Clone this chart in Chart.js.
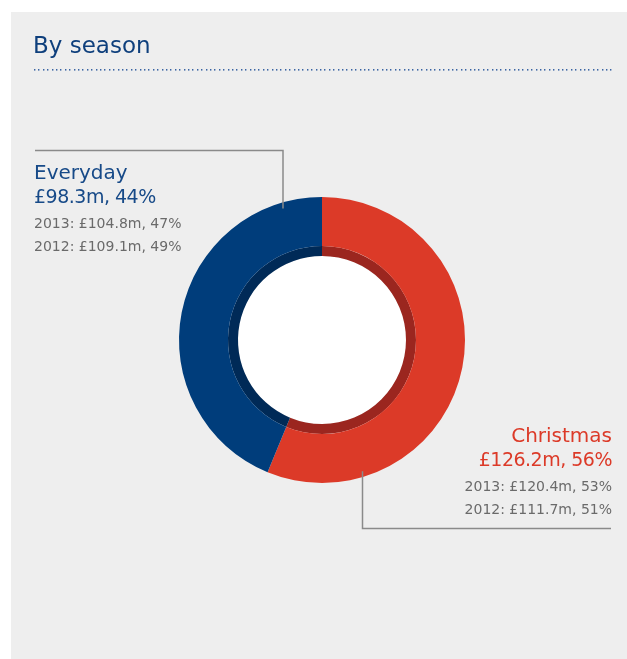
<!DOCTYPE html>
<html>
<head>
<meta charset="utf-8">
<script src="https://cdn.jsdelivr.net/npm/chart.js@4"></script>
<style>
    html, body { margin: 0; padding: 0; background: #ffffff; }
    #wrap { position: absolute; left: 0; top: 0; width: 627px; height: 659px; }
</style>
</head>
<body>
<div id="wrap"><canvas id="seasonChart" width="627" height="659"></canvas></div>
<script>
const seasons = ["Christmas", "Everyday"];
const sales2014 = [126.2, 98.3];
const shares2014 = [56, 44];
const sales2013 = [120.4, 104.8];
const shares2013 = [53, 47];
const sales2012 = [111.7, 109.1];
const shares2012 = [51, 49];

const ringColors = ["#dc3a28", "#003d7b"];
const innerColors = ["#9b261f", "#002a57"];
const labelColors = ["#dc3a28", "#174a88"];
const FONT = "'DejaVu Sans', sans-serif";

// Panel, title, dotted rule
const backdrop = {
    id: "backdrop",
    beforeDraw(chart) {
        const ctx = chart.ctx;
        ctx.save();
        ctx.fillStyle = "#eeeeee";
        ctx.fillRect(11, 12, chart.width - 11, chart.height - 12);
        ctx.fillStyle = "#0e3f7c";
        ctx.font = `23px ${FONT}`;
        ctx.textBaseline = "alphabetic";
        ctx.fillText("By season", 33, 53);
        ctx.fillStyle = "#3a64a3";
        for (let x = 34; x < 612; x += 4.4) {
            ctx.fillRect(Math.round(x), 69, 1.4, 1.6);
        }
        ctx.restore();
    }
};

// Leader lines and text labels
const callouts = {
    id: "callouts",
    afterDraw(chart) {
        const ctx = chart.ctx;
        const arc = chart.getDatasetMeta(0).data[0];
        const cx = arc.x, cy = arc.y, r = arc.outerRadius;
        ctx.save();
        ctx.strokeStyle = "#8a8a8a";
        ctx.lineWidth = 1.5;

        // Everyday: line from left, down to the ring
        const ex = 283;
        const ey = cy - Math.sqrt(r * r - (ex - cx) * (ex - cx));
        ctx.beginPath();
        ctx.moveTo(35, 150.5);
        ctx.lineTo(ex, 150.5);
        ctx.lineTo(ex, ey + 6);
        ctx.stroke();

        // Christmas: line from ring down, then right
        const chx = 362.5;
        const chy = cy + Math.sqrt(r * r - (chx - cx) * (chx - cx));
        ctx.beginPath();
        ctx.moveTo(chx, chy - 6);
        ctx.lineTo(chx, 528.5);
        ctx.lineTo(611, 528.5);
        ctx.stroke();

        const blocks = [
            { i: 1, x: 34, y: 174, align: "left" },
            { i: 0, x: 612, y: 437, align: "right" }
        ];
        ctx.textBaseline = "middle";
        blocks.forEach(b => {
            ctx.textAlign = b.align;
            ctx.fillStyle = labelColors[b.i];
            ctx.font = `20px ${FONT}`;
            ctx.letterSpacing = "0px";
            ctx.fillText(seasons[b.i], b.x, b.y);
            ctx.font = `19px ${FONT}`;
            ctx.letterSpacing = "-0.5px";
            ctx.fillText(`£${sales2014[b.i].toFixed(1)}m, ${shares2014[b.i]}%`, b.x, b.y + 24);
            ctx.letterSpacing = "0px";
            ctx.fillStyle = "#6a6a6a";
            ctx.font = `14px ${FONT}`;
            ctx.fillText(`2013: £${sales2013[b.i].toFixed(1)}m, ${shares2013[b.i]}%`, b.x, b.y + 50);
            ctx.fillText(`2012: £${sales2012[b.i].toFixed(1)}m, ${shares2012[b.i]}%`, b.x, b.y + 73);
        });
        ctx.restore();
    }
};

new Chart(document.getElementById("seasonChart").getContext("2d"), {
    type: "doughnut",
    data: {
        labels: seasons,
        datasets: [
            { data: sales2014, backgroundColor: ringColors, borderWidth: 0, weight: 49 },
            { data: sales2014, backgroundColor: innerColors, borderWidth: 0, weight: 10 },
            { data: [1], backgroundColor: ["#ffffff"], borderWidth: 0, weight: 84 }
        ]
    },
    options: {
        responsive: false,
        animation: false,
        cutout: 0,
        layout: { padding: { left: 179, right: 162, top: 197, bottom: 176 } },
        plugins: {
            legend: { display: false },
            tooltip: { enabled: false }
        }
    },
    plugins: [backdrop, callouts]
});
</script>
</body>
</html>
